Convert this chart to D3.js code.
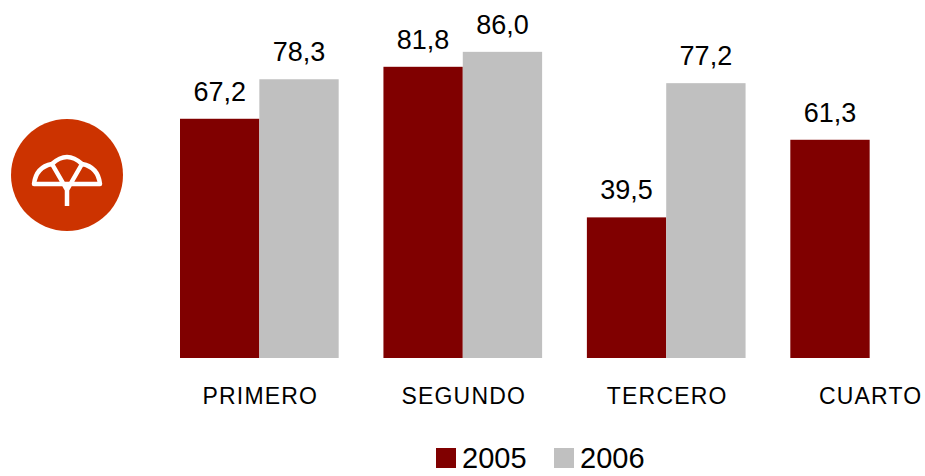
<!DOCTYPE html>
<html>
<head>
<meta charset="utf-8">
<script src="https://cdn.jsdelivr.net/npm/d3@7"></script>
<style>
  body { margin: 0; background: #fff; }
  svg { display: block; font-family: "Liberation Sans", Arial, sans-serif; }
</style>
</head>
<body>
<svg id="chart"></svg>
<script>
// Data
const categories = ["PRIMERO", "SEGUNDO", "TERCERO", "CUARTO"];
const seriesNames = ["2005", "2006"];
const values2005 = [67.2, 81.8, 39.5, 61.3];
const values2006 = [78.3, 86.0, 77.2, null];
const colors = ["#800000", "#C0C0C0"];

const width = 925, height = 476;
const svg = d3.select("#chart").attr("width", width).attr("height", height);

// plot area
const x0 = d3.scaleBand().domain(categories).range([180, 949]).paddingInner(0.22).paddingOuter(0);
const x1 = d3.scaleBand().domain(seriesNames).range([0, x0.bandwidth()]);
const y = d3.scaleLinear().domain([0, 100]).range([358, 2]);

const rows = categories.map((c, i) => ({ cat: c, vals: [values2005[i], values2006[i]] }));

const groups = svg.selectAll(".grp")
    .data(rows)
  .enter().append("g")
    .attr("class", "grp")
    .attr("transform", d => `translate(${x0(d.cat)},0)`);

const bars = groups.selectAll(".bar")
    .data(d => d.vals.map((v, j) => ({ v, s: seriesNames[j], j })).filter(d => d.v != null))
  .enter();

bars.append("rect")
    .attr("x", d => x1(d.s))
    .attr("y", d => y(d.v))
    .attr("width", x1.bandwidth())
    .attr("height", d => y(0) - y(d.v))
    .attr("fill", d => colors[d.j]);

// value labels
bars.append("text")
    .attr("x", d => x1(d.s) + x1.bandwidth() / 2)
    .attr("y", d => y(d.v) - 18)
    .attr("text-anchor", "middle")
    .style("font-size", "27px")
    .text(d => d3.format(".1f")(d.v).replace(".", ","));

// category labels (centred under each group of two bars)
svg.selectAll(".cat")
    .data(categories)
  .enter().append("text")
    .attr("x", d => x0(d) + x0.bandwidth() / 2 + 1)
    .attr("y", 404)
    .attr("text-anchor", "middle")
    .style("font-size", "23px")
    .style("letter-spacing", "1.2px")
    .text(d => d);

// legend (kept just inside the bottom edge)
const legend = svg.append("g").attr("transform", "translate(436,448)");
const li = legend.selectAll(".leg")
    .data(seriesNames)
  .enter().append("g")
    .attr("transform", (d, i) => `translate(${i * 118},0)`);
li.append("rect").attr("width", 20).attr("height", 20).attr("fill", (d, i) => colors[i]);
li.append("text")
    .attr("x", 26)
    .attr("y", 20)
    .style("font-size", "29px")
    .text(d => d);

// logo
const logo = svg.append("g").attr("transform", "translate(67,175)");
logo.append("circle").attr("r", 56).attr("fill", "#CC3300");
logo.append("path")
    .attr("d", "M-33,9 Q-31,-8 -15,-11 Q0,-25 15,-11 Q31,-8 33,9 Z M-15,-11 L0,15 L15,-11 M0,15 L0,31")
    .attr("fill", "none")
    .attr("stroke", "#fff")
    .attr("stroke-width", 4.5)
    .attr("stroke-linejoin", "round");
</script>
</body>
</html>
